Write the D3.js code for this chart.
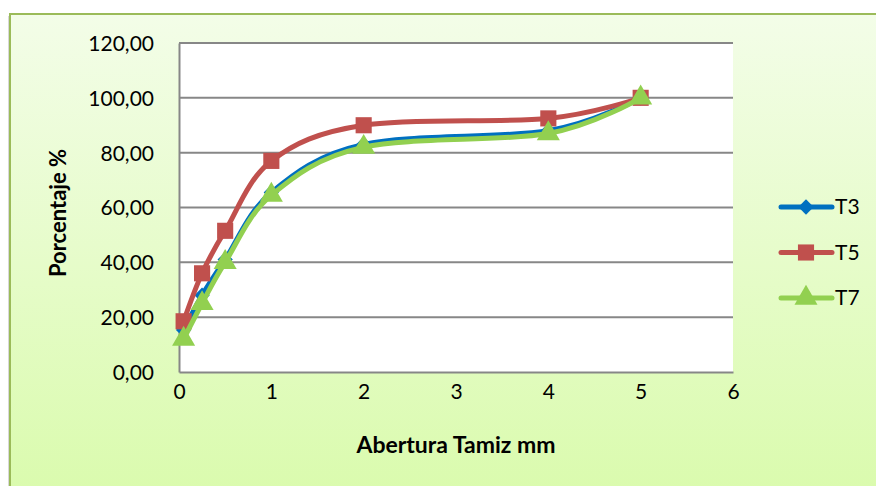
<!DOCTYPE html>
<html>
<head>
<meta charset="utf-8">
<script src="https://cdn.jsdelivr.net/npm/d3@7"></script>
<style>
    body { margin: 0; background: #fff; }
    text { font-family: Lato, "Open Sans", sans-serif; fill: #000; }
</style>
</head>
<body>
<script>
// data
const abertura = [0.05, 0.25, 0.5, 1, 2, 4, 5];
const t3 = [15.3, 28, 41, 65.5, 83, 88, 100];
const t5 = [18.5, 36, 51.5, 77, 90, 92.5, 100];
const t7 = [12, 25, 40, 64.5, 82, 87, 100];
const seriesNames = ["T3", "T5", "T7"];
const xTicks = [0, 1, 2, 3, 4, 5, 6];
const yTicks = [0, 20, 40, 60, 80, 100, 120];

const W = 876, H = 486;
const plot = { left: 179, right: 733, top: 43, bottom: 372 };
const colors = { T3: "#0070c0", T5: "#c0504d", T7: "#92d050" };
const shapes = { T3: d3.symbolDiamond2, T5: d3.symbolSquare, T7: d3.symbolTriangle };
const sizes = { T3: 150, T5: 260, T7: 230 };

const series = [
    { name: "T3", values: t3 },
    { name: "T5", values: t5 },
    { name: "T7", values: t7 }
];

const svg = d3.select("body").append("svg")
    .attr("width", W)
    .attr("height", H);

// background gradient
const defs = svg.append("defs");
const grad = defs.append("linearGradient")
    .attr("id", "bg")
    .attr("x1", 0).attr("y1", 0).attr("x2", 0).attr("y2", 1);
grad.append("stop").attr("offset", "0%").attr("stop-color", "#f3fde8");
grad.append("stop").attr("offset", "100%").attr("stop-color", "#d9fbab");

svg.append("rect")
    .attr("x", 8).attr("y", 16).attr("width", 900).attr("height", 500)
    .attr("fill", "#d8d8d8");
svg.append("rect")
    .attr("x", 10).attr("y", 14).attr("width", 900).attr("height", 500)
    .attr("fill", "url(#bg)")
    .attr("stroke", "#9bbb59")
    .attr("stroke-width", 2);

// plot area
svg.append("rect")
    .attr("x", plot.left).attr("y", plot.top)
    .attr("width", plot.right - plot.left).attr("height", plot.bottom - plot.top)
    .attr("fill", "#fff");

const x = d3.scaleLinear().domain([0, 6]).range([plot.left, plot.right]);
const y = d3.scaleLinear().domain([0, 120]).range([plot.bottom, plot.top]);

const fmt = d3.formatLocale({ decimal: ",", thousands: ".", grouping: [3], currency: ["", ""] }).format(".2f");

// gridlines
svg.append("g")
    .selectAll("line")
    .data(yTicks.filter(d => d > 0))
    .join("line")
    .attr("x1", plot.left).attr("x2", plot.right)
    .attr("y1", d => y(d)).attr("y2", d => y(d))
    .attr("stroke", "#878787")
    .attr("stroke-width", 2);

// axes
const yAxis = d3.axisLeft(y).tickValues(yTicks).tickFormat(fmt).tickSize(0).tickPadding(25);
const gy = svg.append("g")
    .attr("transform", "translate(" + plot.left + ",0)")
    .call(yAxis);
gy.select(".domain").attr("stroke", "#878787").attr("stroke-width", 2);
gy.selectAll("text").attr("font-size", 21).attr("dy", "0.35em");

const xAxis = d3.axisBottom(x).tickValues(xTicks).tickFormat(d3.format("d")).tickSize(0).tickPadding(12);
const gx = svg.append("g")
    .attr("transform", "translate(0," + plot.bottom + ")")
    .call(xAxis);
gx.select(".domain").attr("stroke", "#878787").attr("stroke-width", 2);
gx.selectAll("text").attr("font-size", 21);

// axis titles
svg.append("text")
    .attr("x", 456)
    .attr("y", 453)
    .attr("text-anchor", "middle")
    .attr("font-size", 23)
    .attr("font-weight", "bold")
    .text("Abertura Tamiz mm");

svg.append("text")
    .attr("transform", "translate(66,213) rotate(-90)")
    .attr("text-anchor", "middle")
    .attr("font-size", 22)
    .attr("font-weight", "bold")
    .text("Porcentaje %");

// lines + markers
const line = d3.line()
    .x((d, i) => x(abertura[i]))
    .y(d => y(d))
    .curve(d3.curveCatmullRom.alpha(0));

series.forEach(s => {
    svg.append("path")
        .attr("d", line(s.values))
        .attr("fill", "none")
        .attr("stroke", colors[s.name])
        .attr("stroke-width", 5)
        .attr("stroke-linecap", "round");
    svg.append("g")
        .selectAll("path")
        .data(s.values)
        .join("path")
        .attr("d", d3.symbol().type(shapes[s.name]).size(sizes[s.name]))
        .attr("transform", (d, i) => "translate(" + x(abertura[i]) + "," + y(d) + ")")
        .attr("fill", colors[s.name]);
});

// legend
const legend = svg.append("g");
seriesNames.forEach((name, i) => {
    const ly = 207 + i * 45.5;
    legend.append("line")
        .attr("x1", 781).attr("x2", 832)
        .attr("y1", ly).attr("y2", ly)
        .attr("stroke", colors[name])
        .attr("stroke-width", 5)
        .attr("stroke-linecap", "round");
    legend.append("path")
        .attr("d", d3.symbol().type(shapes[name]).size(sizes[name])())
        .attr("transform", "translate(806," + ly + ")")
        .attr("fill", colors[name]);
    legend.append("text")
        .attr("x", 835)
        .attr("y", ly)
        .attr("dy", "0.35em")
        .attr("font-size", 21)
        .text(name);
});
</script>
</body>
</html>
